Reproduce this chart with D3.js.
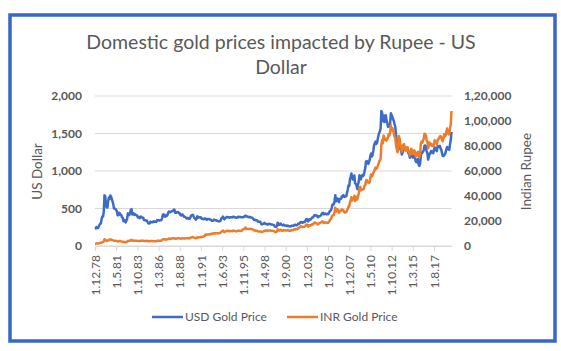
<!DOCTYPE html>
<html>
<head>
<meta charset="utf-8">
<script src="https://cdn.jsdelivr.net/npm/d3@7"></script>
<style>
body { margin: 0; background: #fff; }
text { font-family: Lato, "Open Sans", sans-serif; }
</style>
</head>
<body>
<div id="chart"></div>
<script>
// DATA
const titleLines = ["Domestic gold prices impacted by Rupee - US", "Dollar"];
const seriesNames = ["USD Gold Price", "INR Gold Price"];
const firstMonth = new Date(1978, 11, 1);   // monthly series start at Dec 1978
const xTickLabels = ["1.12.78", "1.5.81", "1.10.83", "1.3.86", "1.8.88", "1.1.91", "1.6.93", "1.11.95",
    "1.4.98", "1.9.00", "1.2.03", "1.7.05", "1.12.07", "1.5.10", "1.10.12", "1.3.15", "1.8.17"];
const usdTicks = [0, 500, 1000, 1500, 2000];
const inrTicks = [0, 20000, 40000, 60000, 80000, 100000, 120000];
const inrTickLabels = ["0", "20,000", "40,000", "60,000", "80,000", "1,00,000", "1,20,000"];

// US dollars per ounce, one value per month
const usdPrice = [
    226,
    233, 252, 242, 239, 257, 279, 295, 301, 355, 392, 392, 456,
    675, 665, 553, 517, 513, 600, 645, 627, 674, 661, 623, 595,
    557, 500, 499, 495, 480, 460, 409, 410, 443, 437, 413, 410,
    384, 374, 330, 350, 334, 315, 339, 364, 435, 422, 414, 444,
    481, 491, 420, 432, 437, 413, 422, 416, 412, 394, 382, 388,
    370, 386, 394, 381, 377, 378, 347, 348, 341, 340, 341, 320,
    303, 299, 304, 325, 316, 317, 317, 330, 323, 326, 325, 322,
    345, 339, 346, 340, 342, 343, 348, 376, 418, 423, 398, 391,
    408, 401, 409, 438, 460, 449, 450, 460, 460, 466, 466, 487,
    477, 442, 444, 452, 451, 452, 437, 433, 413, 406, 420, 419,
    404, 388, 390, 384, 371, 367, 375, 365, 362, 367, 394, 409,
    410, 417, 393, 374, 369, 352, 362, 395, 389, 381, 382, 378,
    384, 364, 363, 358, 357, 367, 368, 356, 349, 359, 361, 361,
    354, 354, 345, 338, 337, 341, 353, 343, 345, 345, 335, 334,
    329, 330, 330, 342, 367, 372, 392, 379, 355, 364, 374, 383,
    387, 382, 384, 377, 381, 385, 385, 380, 391, 389, 384, 379,
    379, 377, 382, 391, 385, 387, 386, 383, 383, 383, 386, 387,
    400, 405, 396, 393, 392, 385, 383, 387, 383, 381, 378, 369,
    355, 346, 352, 344, 344, 341, 324, 324, 323, 325, 306, 289,
    289, 297, 296, 308, 299, 292, 293, 284, 289, 296, 294, 291,
    287, 287, 286, 282, 277, 262, 256, 257, 265, 311, 293, 283,
    284, 300, 286, 280, 275, 285, 282, 274, 273, 270, 266, 272,
    266, 262, 263, 261, 272, 270, 268, 273, 283, 283, 276, 276,
    282, 296, 294, 302, 314, 322, 314, 310, 319, 317, 319, 333,
    357, 359, 340, 328, 355, 356, 351, 360, 379, 379, 390, 407,
    414, 405, 406, 404, 383, 392, 398, 400, 406, 420, 439, 442,
    424, 423, 434, 429, 422, 430, 424, 437, 456, 470, 476, 510,
    549, 555, 557, 610, 676, 596, 633, 632, 598, 585, 627, 629,
    631, 664, 655, 679, 667, 655, 665, 665, 712, 754, 806, 803,
    889, 922, 968, 909, 888, 889, 939, 839, 829, 806, 760, 816,
    858, 943, 924, 890, 928, 945, 934, 949, 996, 1043, 1127, 1134,
    1118, 1095, 1113, 1148, 1205, 1232, 1193, 1215, 1271, 1343, 1370, 1391,
    1360, 1374, 1424, 1473, 1510, 1529, 1572, 1800, 1780, 1666, 1739, 1652,
    1656, 1743, 1675, 1649, 1591, 1598, 1594, 1630, 1770, 1747, 1721, 1688,
    1671, 1627, 1593, 1487, 1414, 1300, 1286, 1347, 1349, 1316, 1275, 1221,
    1244, 1300, 1336, 1299, 1287, 1279, 1311, 1296, 1239, 1222, 1176, 1200,
    1251, 1227, 1179, 1198, 1199, 1181, 1128, 1117, 1125, 1159, 1086, 1068,
    1097, 1199, 1246, 1242, 1260, 1276, 1337, 1340, 1326, 1266, 1236, 1152,
    1192, 1234, 1231, 1267, 1246, 1260, 1236, 1283, 1315, 1280, 1283, 1265,
    1331, 1331, 1325, 1335, 1303, 1282, 1238, 1202, 1199, 1215, 1221, 1250,
    1291, 1320, 1300, 1286, 1284, 1359, 1413, 1520
];

// Indian rupees per ounce, in thousands, one value per month
const inrPriceK = [
    1.9,
    1.9, 2.1, 2.0, 2.0, 2.1, 2.3, 2.4, 2.4, 2.8, 3.1, 3.2, 3.6,
    5.3, 5.2, 4.4, 4.1, 4.1, 4.7, 5.0, 4.8, 5.3, 5.2, 4.9, 4.7,
    4.5, 4.2, 4.1, 4.2, 4.1, 4.0, 3.6, 3.7, 4.0, 4.0, 3.8, 3.7,
    3.5, 3.4, 3.1, 3.3, 3.1, 3.0, 3.2, 3.5, 4.2, 4.1, 4.0, 4.3,
    4.7, 4.9, 4.2, 4.3, 4.4, 4.2, 4.3, 4.2, 4.2, 4.1, 4.0, 4.1,
    3.9, 4.1, 4.3, 4.2, 4.2, 4.3, 4.1, 4.1, 4.1, 4.1, 4.2, 4.0,
    3.8, 3.8, 3.9, 4.1, 4.0, 3.9, 3.8, 4.0, 3.9, 3.9, 3.9, 3.9,
    4.2, 4.1, 4.3, 4.2, 4.3, 4.3, 4.4, 4.8, 5.4, 5.5, 5.2, 5.1,
    5.3, 5.2, 5.3, 5.6, 5.9, 5.7, 5.8, 6.0, 6.0, 6.1, 6.1, 6.3,
    6.2, 5.8, 5.9, 6.1, 6.1, 6.3, 6.2, 6.1, 5.9, 5.9, 6.2, 6.2,
    6.1, 5.9, 6.2, 6.2, 6.1, 6.2, 6.4, 6.2, 6.2, 6.2, 6.7, 7.0,
    7.0, 7.2, 6.8, 6.5, 6.4, 6.2, 6.3, 7.0, 6.9, 6.9, 7.0, 7.0,
    7.3, 7.1, 7.3, 7.4, 7.6, 7.9, 9.0, 9.2, 9.0, 9.3, 9.3, 9.4,
    9.2, 9.2, 9.9, 9.8, 9.8, 10.0, 10.4, 10.0, 10.2, 10.3, 10.2, 10.3,
    10.2, 10.2, 10.4, 10.7, 11.5, 11.7, 12.3, 11.9, 11.1, 11.4, 11.7, 12.0,
    12.2, 12.0, 12.1, 11.8, 12.0, 12.1, 12.1, 11.9, 12.3, 12.2, 12.1, 11.9,
    11.9, 11.8, 12.0, 12.3, 12.1, 12.2, 12.1, 12.0, 12.3, 13.2, 13.3, 13.5,
    14.2, 14.8, 13.6, 13.5, 13.7, 13.5, 13.6, 13.8, 13.7, 13.6, 13.5, 13.2,
    12.7, 12.4, 12.6, 12.3, 12.3, 12.2, 11.6, 11.7, 11.7, 11.7, 11.5, 11.3,
    11.4, 11.5, 11.7, 12.2, 12.1, 12.4, 12.5, 12.1, 12.3, 12.5, 12.5, 12.4,
    12.2, 12.2, 12.2, 12.1, 11.9, 11.3, 11.1, 11.2, 11.6, 13.5, 12.7, 12.3,
    12.4, 13.1, 12.5, 12.2, 12.1, 12.7, 12.6, 12.5, 12.5, 12.5, 12.4, 12.7,
    12.4, 12.2, 12.3, 12.2, 12.8, 12.7, 12.6, 12.9, 13.5, 13.6, 13.2, 13.3,
    13.7, 14.4, 14.3, 14.8, 15.4, 15.8, 15.3, 15.1, 15.4, 15.3, 15.4, 16.0,
    17.1, 17.2, 16.2, 15.5, 16.7, 16.6, 16.3, 16.6, 17.4, 17.2, 17.7, 18.6,
    18.8, 18.3, 18.2, 17.7, 17.3, 17.8, 18.3, 18.5, 18.7, 19.2, 19.8, 19.5,
    18.5, 18.5, 19.0, 18.7, 18.4, 18.7, 18.4, 19.1, 20.0, 21.1, 21.8, 23.3,
    24.4, 24.6, 24.8, 27.4, 30.7, 27.4, 29.4, 29.4, 27.6, 26.6, 28.2, 28.1,
    28.0, 29.3, 28.8, 28.7, 27.2, 26.7, 26.9, 27.1, 28.7, 29.8, 31.8, 31.6,
    35.0, 36.6, 39.0, 36.4, 37.4, 38.0, 40.2, 36.0, 37.8, 39.3, 37.2, 39.7,
    41.9, 46.4, 47.3, 44.5, 45.0, 45.2, 45.3, 45.8, 48.2, 48.7, 52.5, 52.8,
    51.3, 50.7, 50.6, 51.1, 55.2, 57.3, 55.8, 56.6, 58.6, 59.6, 61.4, 62.7,
    61.7, 62.4, 63.9, 65.4, 67.8, 68.5, 69.8, 81.5, 84.7, 82.1, 88.3, 87.1,
    85.0, 85.8, 84.3, 85.4, 86.7, 89.5, 88.5, 90.5, 96.6, 92.6, 94.3, 92.2,
    90.7, 87.4, 86.7, 80.9, 77.8, 75.0, 76.9, 88.0, 86.0, 81.1, 79.8, 75.6,
    77.3, 80.9, 81.5, 78.5, 76.3, 76.4, 78.8, 78.9, 75.6, 74.9, 72.6, 75.2,
    77.8, 76.1, 73.6, 75.1, 76.5, 75.5, 71.7, 72.7, 74.5, 75.3, 71.8, 71.1,
    73.8, 81.8, 83.5, 82.6, 84.3, 85.9, 89.8, 89.6, 88.4, 84.4, 83.6, 78.2,
    81.2, 82.8, 81.1, 81.7, 80.2, 81.1, 79.7, 82.0, 84.7, 83.3, 83.3, 81.2,
    84.7, 85.7, 86.1, 87.6, 88.0, 86.9, 85.1, 83.7, 86.6, 89.4, 87.7, 88.4,
    91.7, 94.0, 90.4, 89.2, 89.6, 94.3, 97.2, 108.0
];

// LAYOUT
const outerWidth = 561;
const outerHeight = 351;
const margin = { top: 96, right: 109.5, bottom: 105, left: 95 };
const width = outerWidth - margin.left - margin.right;
const height = outerHeight - margin.top - margin.bottom;

const blue = "#3d6cc8";
const orange = "#ee7d2b";
const textGray = "#595959";
const gridGray = "#d9d9d9";

const svg = d3.select("#chart").append("svg")
    .attr("width", outerWidth)
    .attr("height", outerHeight);

// chart border
svg.append("rect")
    .attr("x", 10)
    .attr("y", 15)
    .attr("width", 545)
    .attr("height", 326)
    .attr("fill", "#fff")
    .attr("stroke", "#3a66c6")
    .attr("stroke-width", 3.5);

// title
svg.append("text")
    .attr("text-anchor", "middle")
    .attr("fill", textGray)
    .style("font-size", "19.5px")
    .selectAll("tspan")
    .data(titleLines)
    .join("tspan")
    .attr("x", 281)
    .attr("y", (d, i) => 48.5 + i * 25)
    .text(d => d);

const g = svg.append("g")
    .attr("transform", `translate(${margin.left}, ${margin.top})`);

// scales
const monthFormat = d3.timeFormat("%-d.%-m.%y");
const months = d3.timeMonth.range(firstMonth, d3.timeMonth.offset(firstMonth, usdPrice.length))
    .map(monthFormat);

const x = d3.scalePoint()
    .domain(months)
    .range([0, width]);

const yUsd = d3.scaleLinear()
    .domain([0, 2000])
    .range([height, 0]);

const yInr = d3.scaleLinear()
    .domain([0, 120000])
    .range([height, 0]);

// gridlines
g.append("g")
    .selectAll("line")
    .data(usdTicks)
    .join("line")
    .attr("x1", 0)
    .attr("x2", width)
    .attr("y1", d => yUsd(d))
    .attr("y2", d => yUsd(d))
    .attr("stroke", gridGray)
    .attr("stroke-width", 1);

// x axis
const xAxis = g.append("g")
    .attr("transform", `translate(0, ${height})`)
    .call(d3.axisBottom(x).tickValues(xTickLabels).tickSizeInner(5).tickSizeOuter(0));
xAxis.select(".domain").attr("stroke", gridGray);
xAxis.selectAll(".tick line").attr("stroke", gridGray);
xAxis.selectAll(".tick text")
    .attr("fill", textGray)
    .style("font-size", "12px")
    .attr("text-anchor", "end")
    .attr("transform", "rotate(-90)")
    .attr("x", -9)
    .attr("y", 0)
    .attr("dy", "0.35em");

// left axis
const leftAxis = g.append("g")
    .call(d3.axisLeft(yUsd).tickValues(usdTicks).tickFormat(d3.format(",")).tickSize(0).tickPadding(13));
leftAxis.select(".domain").remove();
leftAxis.selectAll(".tick text")
    .attr("fill", textGray)
    .style("font-size", "12px")
    .style("font-weight", "bold");

// right axis
const rightAxis = g.append("g")
    .attr("transform", `translate(${width}, 0)`)
    .call(d3.axisRight(yInr).tickValues(inrTicks).tickFormat((d, i) => inrTickLabels[i]).tickSize(0).tickPadding(12.5));
rightAxis.select(".domain").remove();
rightAxis.selectAll(".tick text")
    .attr("fill", textGray)
    .style("font-size", "12px")
    .style("font-weight", "bold");

// axis titles
g.append("text")
    .attr("text-anchor", "middle")
    .attr("transform", "rotate(-90)")
    .attr("x", -(171.5 - margin.top))
    .attr("y", 37.5 - margin.left)
    .attr("dy", "0.35em")
    .attr("fill", textGray)
    .style("font-size", "13.5px")
    .text("US Dollar");

g.append("text")
    .attr("text-anchor", "middle")
    .attr("transform", "rotate(-90)")
    .attr("x", -(171.5 - margin.top))
    .attr("y", 526.5 - margin.left)
    .attr("dy", "0.35em")
    .attr("fill", textGray)
    .style("font-size", "13.5px")
    .text("Indian Rupee");

// lines
const usdLine = d3.line()
    .x((d, i) => x(months[i]))
    .y(d => yUsd(d));
g.append("path")
    .attr("d", usdLine(usdPrice))
    .attr("fill", "none")
    .attr("stroke", blue)
    .attr("stroke-width", 2.5)
    .attr("stroke-linejoin", "round");

const inrLine = d3.line()
    .x((d, i) => x(months[i]))
    .y(d => yInr(d * 1000));
g.append("path")
    .attr("d", inrLine(inrPriceK))
    .attr("fill", "none")
    .attr("stroke", orange)
    .attr("stroke-width", 2.5)
    .attr("stroke-linejoin", "round");

// legend
const legendX = [152, 287];
const legend = svg.append("g")
    .selectAll("g")
    .data(seriesNames)
    .join("g")
    .attr("transform", (d, i) => `translate(${legendX[i]}, 317)`);
legend.append("line")
    .attr("x1", 0)
    .attr("x2", 31)
    .attr("stroke", (d, i) => i === 0 ? blue : orange)
    .attr("stroke-width", 2.5);
legend.append("text")
    .attr("x", 33)
    .attr("dy", "0.35em")
    .attr("fill", textGray)
    .style("font-size", "12px")
    .text(d => d);
</script>
</body>
</html>
